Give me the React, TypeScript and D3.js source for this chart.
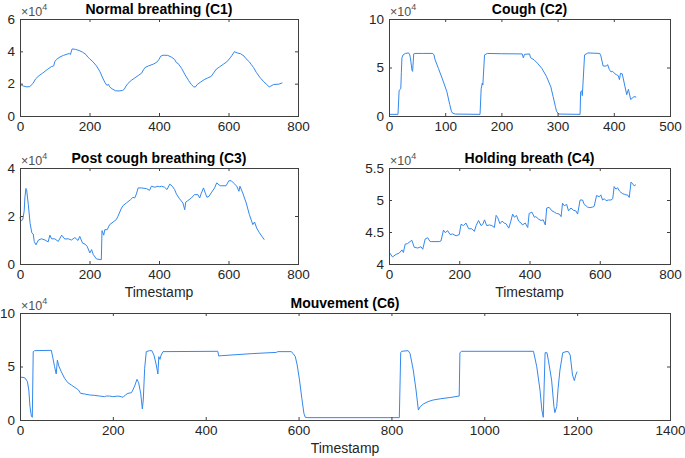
import React, { useEffect, useRef } from "react";
import * as d3 from "d3";

// values, y in units of 1e4
const c1Points: [number, number][] = [
  [0, 1.95], [5, 1.9], [10, 1.85], [20, 1.8], [28, 1.82], [37, 2.0], [45, 2.3], [55, 2.5], [65, 2.65], [80, 2.9],
  [90, 3.05], [97, 3.1], [100, 3.35], [105, 3.5], [115, 3.65], [125, 3.75], [135, 3.82], [142, 3.87], [145, 3.8], [150, 4.15],
  [160, 4.12], [170, 4.05], [180, 3.95], [190, 3.8], [195, 3.65], [200, 3.55], [210, 3.35], [220, 3.1], [230, 2.75], [238, 2.35],
  [245, 2.05], [250, 1.9], [255, 1.95], [258, 1.8], [265, 1.68], [275, 1.56], [285, 1.55], [295, 1.58], [300, 1.65], [305, 1.85],
  [310, 2.0], [320, 2.2], [330, 2.35], [340, 2.5], [350, 2.65], [355, 2.85], [360, 3.0], [370, 3.1], [385, 3.22], [395, 3.35],
  [400, 3.5], [405, 3.7], [412, 3.76], [425, 3.75], [435, 3.65], [445, 3.5], [450, 3.3], [455, 3.25], [465, 2.95], [475, 2.55],
  [485, 2.2], [493, 1.95], [500, 1.8], [505, 1.8], [510, 1.95], [520, 2.1], [530, 2.25], [540, 2.35], [550, 2.45], [555, 2.6],
  [565, 2.9], [575, 3.05], [585, 3.2], [595, 3.35], [605, 3.6], [610, 3.75], [617, 3.98], [625, 3.9], [635, 3.85], [645, 3.7],
  [650, 3.55], [660, 3.35], [665, 3.2], [672, 3.0], [680, 2.7], [690, 2.4], [700, 2.15], [710, 1.95], [717, 1.8], [722, 1.85],
  [730, 1.95], [745, 1.97], [755, 2.05],
];

const c2Points: [number, number][] = [
  [0, 0.17], [16, 0.17], [18, 2.6], [21, 2.85], [22, 4.5], [23, 6.0], [25, 6.3], [29, 6.45], [35, 6.5], [37, 6.3],
  [38, 6.0], [41, 4.7], [42, 4.6], [44, 6.4], [46, 6.45], [60, 6.45], [78, 6.45], [80, 6.3], [82, 5.8], [88, 4.9],
  [97, 3.5], [103, 2.5], [108, 1.2], [111, 0.5], [113, 0.3], [118, 0.2], [162, 0.17], [164, 2.8], [166, 3.4], [167, 3.2],
  [170, 6.3], [175, 6.45], [200, 6.42], [237, 6.4], [239, 6.0], [241, 6.35], [250, 6.4], [252, 6.0], [258, 5.8], [264, 5.45],
  [272, 4.9], [280, 4.1], [288, 3.0], [292, 2.0], [296, 1.0], [298, 0.5], [302, 0.2], [340, 0.17], [341, 2.5], [343, 2.6],
  [344, 2.1], [348, 6.3], [354, 6.5], [375, 6.45], [377, 6.2], [381, 5.15], [387, 5.15], [389, 5.3], [392, 4.8], [395, 4.55],
  [398, 4.6], [402, 4.35], [405, 4.25], [408, 4.15], [410, 3.75], [412, 4.4], [415, 4.35], [420, 3.0], [423, 2.2], [426, 2.75],
  [430, 1.7], [436, 2.0], [440, 1.95],
];

const c3Points: [number, number][] = [
  [0, 1.95], [2, 1.8], [8, 1.85], [12, 2.2], [14, 2.75], [17, 3.15], [19, 3.1], [24, 2.47], [29, 1.7], [34, 1.3],
  [38, 1.25], [41, 0.94], [46, 0.8], [53, 1.0], [62, 1.05], [72, 1.0], [81, 0.92], [86, 1.2], [91, 1.05], [100, 1.05],
  [110, 0.94], [120, 1.2], [129, 1.04], [139, 1.05], [148, 1.0], [158, 1.1], [167, 0.98], [172, 1.15], [180, 0.87], [187, 0.83],
  [193, 0.74], [201, 0.46], [206, 0.6], [211, 0.39], [220, 0.21], [234, 0.18], [236, 1.39], [241, 1.2], [244, 1.43], [251, 1.43],
  [258, 1.64], [268, 1.75], [277, 1.85], [282, 1.99], [292, 2.33], [297, 2.44], [306, 2.54], [318, 2.68], [325, 2.78], [330, 2.75],
  [335, 2.92], [340, 3.17], [349, 3.17], [364, 3.14], [373, 3.07], [378, 3.24], [388, 3.2], [397, 3.24], [402, 3.22], [407, 3.24],
  [416, 3.2], [423, 3.1], [431, 3.33], [438, 3.24], [445, 3.1], [450, 2.92], [459, 2.72], [469, 2.54], [474, 2.26], [477, 2.58],
  [483, 2.64], [493, 2.75], [502, 2.89], [512, 2.89], [517, 2.75], [521, 2.92], [528, 3.17], [534, 2.92], [538, 2.78], [544, 2.82],
  [550, 2.96], [560, 3.17], [566, 3.38], [576, 3.26], [593, 3.26], [601, 3.47], [608, 3.47], [614, 3.38], [624, 3.24], [630, 3.03],
  [633, 3.24], [641, 2.96], [651, 2.54], [660, 2.06], [670, 1.64], [675, 1.75], [681, 1.5], [689, 1.3], [703, 1.01],
];

const c4Points: [number, number][] = [
  [1, 4.18], [10, 4.11], [20, 4.15], [29, 4.17], [37, 4.22], [41, 4.18], [46, 4.31], [53, 4.32], [60, 4.35], [65, 4.37],
  [72, 4.26], [82, 4.25], [91, 4.27], [96, 4.23], [103, 4.39], [110, 4.41], [117, 4.35], [122, 4.35], [143, 4.35], [148, 4.36],
  [155, 4.53], [160, 4.49], [167, 4.52], [174, 4.46], [181, 4.47], [191, 4.44], [200, 4.46], [205, 4.62], [212, 4.6], [219, 4.64],
  [227, 4.55], [236, 4.55], [243, 4.51], [248, 4.6], [255, 4.68], [262, 4.6], [267, 4.62], [272, 4.69], [278, 4.6], [286, 4.61],
  [293, 4.6], [300, 4.57], [305, 4.76], [309, 4.73], [316, 4.63], [322, 4.67], [328, 4.64], [333, 4.63], [341, 4.56], [347, 4.67],
  [352, 4.78], [357, 4.73], [363, 4.76], [369, 4.67], [376, 4.64], [380, 4.61], [388, 4.64], [395, 4.57], [399, 4.79], [407, 4.81],
  [414, 4.73], [418, 4.74], [426, 4.7], [433, 4.68], [439, 4.69], [445, 4.61], [449, 4.875], [456, 4.885], [464, 4.83], [471, 4.81],
  [477, 4.79], [485, 4.78], [490, 4.74], [494, 4.95], [499, 4.91], [506, 4.93], [511, 4.83], [518, 4.875], [525, 4.84], [532, 4.83],
  [537, 4.78], [544, 5.0], [551, 5.0], [556, 4.93], [561, 4.91], [565, 4.89], [572, 4.88], [580, 4.89], [584, 4.9], [591, 5.07],
  [599, 5.05], [603, 5.08], [608, 5.0], [613, 5.02], [618, 4.99], [625, 5.0], [632, 5.0], [637, 5.02], [641, 5.21], [646, 5.17],
  [651, 5.19], [656, 5.14], [660, 5.12], [665, 5.1], [670, 5.09], [675, 5.08], [679, 5.08], [684, 5.04], [689, 5.28], [694, 5.25],
  [698, 5.22], [703, 5.24],
];

const c6Points: [number, number][] = [
  [0, 3.99], [6.5, 3.99], [11.5, 3.9], [16, 3.58], [19, 2.8], [21.5, 1.25], [24.5, 0.37], [26.5, 0.25], [28.5, 6.39], [31.5, 6.48],
  [67.5, 6.51], [71, 5.76], [74.5, 4.98], [78, 4.3], [80.5, 5.6], [83.5, 5.05], [89, 4.5], [96, 3.9], [103, 3.49], [110.5, 3.27],
  [121, 2.96], [126, 2.8], [130.5, 2.49], [139, 2.43], [150, 2.34], [161, 2.3], [171.5, 2.24], [182, 2.18], [186, 2.24], [193, 2.24],
  [200, 2.18], [211, 2.24], [218, 2.18], [222, 2.12], [227, 2.34], [232.5, 2.49], [240, 2.55], [243, 2.8], [247, 3.18], [252, 3.8],
  [255.5, 3.49], [260, 2.49], [263.5, 1.03], [265.5, 1.87], [268.5, 4.83], [272, 6.39], [279, 6.48], [284, 6.48], [288.5, 6.07], [293.5, 5.14],
  [297, 4.3], [299, 5.92], [301.5, 5.67], [304, 6.07], [308, 6.39], [426, 6.42], [428, 5.98], [433.5, 6.01], [498, 6.2], [552, 6.32],
  [555.5, 6.39], [584, 6.39], [588, 6.23], [593, 5.92], [597, 5.14], [602, 3.74], [607, 2.02], [611.5, 0.62], [614.5, 0.25], [620, 0.22],
  [817, 0.22], [820, 6.29], [822, 6.42], [836, 6.48], [840, 6.23], [847, 4.67], [853, 2.8], [858, 0.93], [862, 1.25], [869, 1.5],
  [879, 1.72], [890, 1.87], [905, 1.98], [926, 2.1], [946, 2.24], [947.5, 6.29], [951, 6.42], [1106, 6.42], [1113, 4.98], [1120, 2.8],
  [1124, 0.93], [1127, 0.25], [1131, 6.29], [1135, 6.29], [1138, 5.6], [1145, 3.74], [1150, 1.25], [1152, 0.69], [1156, 1.25], [1159, 2.96],
  [1163, 4.67], [1169, 6.29], [1176, 6.39], [1181, 6.39], [1185, 6.07], [1190, 4.2], [1194, 3.68], [1197, 4.2], [1200, 4.52],
];

const ticks800 = [0, 200, 400, 600, 800];
const ticks500 = [0, 100, 200, 300, 400, 500];
const ticks1400 = [0, 200, 400, 600, 800, 1000, 1200, 1400];
const c1YTicks = [0, 2, 4, 6];
const c2YTicks = [0, 5, 10];
const c3YTicks = [0, 2, 4];
const c4YTicks = [4, 4.5, 5, 5.5];
const c6YTicks = [0, 5, 10];

const panels = [
  { title: "Normal breathing (C1)", pts: c1Points, xd: [0, 800], xt: ticks800, yd: [0, 6], yt: c1YTicks, box: [20, 298, 19, 116], xlabel: false },
  { title: "Cough (C2)", pts: c2Points, xd: [0, 500], xt: ticks500, yd: [0, 10], yt: c2YTicks, box: [389, 670, 19, 116], xlabel: false },
  { title: "Post cough breathing (C3)", pts: c3Points, xd: [0, 800], xt: ticks800, yd: [0, 4], yt: c3YTicks, box: [20, 298, 168, 264], xlabel: true },
  { title: "Holding breath (C4)", pts: c4Points, xd: [0, 800], xt: ticks800, yd: [4, 5.5], yt: c4YTicks, box: [389, 670, 168, 264], xlabel: true },
  { title: "Mouvement (C6)", pts: c6Points, xd: [0, 1400], xt: ticks1400, yd: [0, 10], yt: c6YTicks, box: [20, 670, 313, 420], xlabel: true },
];

const FONT = "'Liberation Sans', Arial, Helvetica, sans-serif";
const TEXT = "#262626";
const AXIS = "#404040";
const LINE = "#3388ee";

export default function App() {
  const ref = useRef<SVGSVGElement>(null);

  useEffect(() => {
    const svg = d3.select(ref.current);
    svg.selectAll("*").remove();

    panels.forEach((p) => {
      const [left, right, top, bottom] = p.box;
      const x = d3.scaleLinear().domain(p.xd).range([left, right]);
      const y = d3.scaleLinear().domain(p.yd).range([bottom, top]);
      const g = svg.append("g");

      // the trace
      g.append("path")
        .datum(p.pts)
        .attr("fill", "none")
        .attr("stroke", LINE)
        .attr("stroke-width", 1)
        .attr("stroke-linejoin", "round")
        .attr("d", d3.line<[number, number]>().x((d) => x(d[0])).y((d) => y(d[1])));

      // axes, ticks pointing in, on all four sides
      const fmt = (d: any) => String(d);
      const styleAxis = (a: any) => {
        a.select(".domain").remove();
        a.attr("font-family", FONT).attr("font-size", 13.5);
        a.selectAll("line").attr("stroke", AXIS);
        a.selectAll("text").attr("fill", TEXT);
      };
      styleAxis(g.append("g").attr("transform", `translate(0,${bottom})`)
        .call(d3.axisBottom(x).tickValues(p.xt).tickSize(-3).tickPadding(5).tickFormat(fmt)));
      styleAxis(g.append("g").attr("transform", `translate(0,${top})`)
        .call(d3.axisTop(x).tickValues(p.xt).tickSize(-3).tickFormat(() => "")));
      styleAxis(g.append("g").attr("transform", `translate(${left},0)`)
        .call(d3.axisLeft(y).tickValues(p.yt).tickSize(-3).tickPadding(5).tickFormat(fmt)));
      styleAxis(g.append("g").attr("transform", `translate(${right},0)`)
        .call(d3.axisRight(y).tickValues(p.yt).tickSize(-3).tickFormat(() => "")));

      g.append("rect")
        .attr("x", left + 0.5).attr("y", top + 0.5)
        .attr("width", right - left).attr("height", bottom - top)
        .attr("fill", "none").attr("stroke", AXIS).attr("stroke-width", 1);

      // exponent label
      const ex = g.append("text")
        .attr("x", left + 1).attr("y", top - 3)
        .attr("font-family", FONT).attr("font-size", 12.5).attr("fill", "#505050");
      ex.append("tspan").text("\u00d710");
      ex.append("tspan").attr("font-size", 9).attr("dy", -6).text("4");

      g.append("text")
        .attr("x", (left + right) / 2).attr("y", top - 5)
        .attr("text-anchor", "middle")
        .attr("font-family", FONT).attr("font-size", 14).attr("font-weight", "bold")
        .attr("fill", "#000")
        .text(p.title);

      if (p.xlabel) {
        g.append("text")
          .attr("x", (left + right) / 2).attr("y", bottom + 33)
          .attr("text-anchor", "middle")
          .attr("font-family", FONT).attr("font-size", 14)
          .attr("fill", TEXT)
          .text("Timestamp");
      }
    });
  }, []);

  return (
    <svg
      ref={ref}
      width={685}
      height={458}
      style={{ position: "absolute", left: 0, top: 0, background: "#fff" }}
    />
  );
}
